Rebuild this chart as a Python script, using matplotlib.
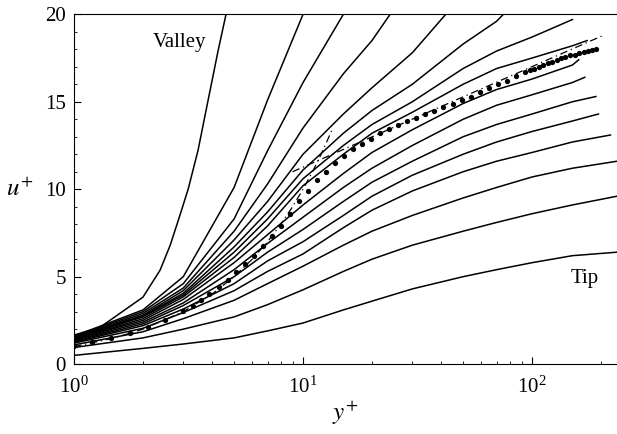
import numpy as np
import matplotlib
matplotlib.use("Agg")
import matplotlib.pyplot as plt

plt.rcParams['font.family'] = ['Liberation Serif', 'DejaVu Serif']
plt.rcParams['mathtext.fontset'] = 'stix'

# -----------------------------
# data
# -----------------------------
# valley profile (own sample points)
valley_y = [1.0, 1.3, 2.0, 2.375, 2.63, 2.9, 3.15, 3.48, 3.85, 4.26, 4.61]
valley_u = [1.66, 2.11, 3.83, 5.37, 6.8, 8.51, 10.0, 12.23, 15.09, 17.94, 20.0]

# other profiles on a common y+ grid, each with its own end point
grid_y = [1, 2, 3, 5, 7, 10, 15, 20, 30, 50, 70, 100, 150]
profiles_u = [
    [1.6, 3.1, 5.0, 10.1, 15.1],
    [1.55, 3.0, 4.6, 8.3, 12.2, 16.1],
    [1.5, 2.9, 4.35, 7.6, 10.3, 13.5, 16.6, 18.5],
    [1.5, 2.8, 4.2, 7.1, 9.3, 12.0, 14.3, 15.8, 17.8],
    [1.45, 2.75, 4.05, 6.7, 8.7, 11.1, 13.2, 14.5, 16.0, 18.3, 19.6],
    [1.45, 2.7, 3.95, 6.4, 8.3, 10.6, 12.5, 13.7, 15.0, 16.9, 17.9, 18.7],
    [1.4, 2.6, 3.85, 6.1, 7.9, 10.2, 12.0, 13.2, 14.4, 16.0, 16.9, 17.5, 18.2],
    [1.4, 2.5, 3.7, 5.8, 7.4, 9.1, 10.9, 12.1, 13.4, 14.9, 15.7, 16.3, 17.1],
    [1.35, 2.4, 3.5, 5.4, 6.9, 8.4, 10.1, 11.2, 12.5, 14.0, 14.8, 15.4, 16.1],
    [1.3, 2.3, 3.35, 5.0, 6.4, 7.7, 9.3, 10.4, 11.6, 13.0, 13.7, 14.3, 15.0],
    [1.25, 2.2, 3.15, 4.6, 5.9, 7.0, 8.5, 9.6, 10.8, 12.0, 12.7, 13.3, 13.9],
    [1.2, 2.05, 2.95, 4.2, 5.3, 6.3, 7.8, 8.8, 9.9, 11.0, 11.6, 12.1, 12.7],
    [1.1, 1.85, 2.6, 3.65, 4.6, 5.6, 6.8, 7.6, 8.5, 9.5, 10.1, 10.7, 11.2],
    [0.95, 1.5, 2.0, 2.7, 3.4, 4.25, 5.3, 6.0, 6.8, 7.6, 8.1, 8.6, 9.1],
    [0.5, 0.9, 1.15, 1.5, 1.9, 2.35, 3.1, 3.6, 4.3, 5.0, 5.4, 5.8, 6.2],
]
end_y = [10, 15, 24, 42, 75, 150, 174, 160, 170, 190, 195, 220, 235, 235, 235]
end_u = [20, 20, 20, 20, 20, 19.7, 18.5, 17.4, 16.4, 15.3, 14.3, 13.1, 11.6, 9.6, 6.4]

# mean profile (filled dots)
mean_y = [1.0, 1.2, 1.45, 1.75, 2.1, 2.5, 3.0, 3.3, 3.6, 3.9, 4.3, 4.7, 5.1, 5.6,
          6.1, 6.7, 7.3, 8.0, 8.8, 9.6, 10.5, 11.5, 12.6, 13.8, 15.1, 16.5, 18.1,
          19.8, 21.7, 23.8, 26.0, 28.5, 31.2, 34.2, 37.4, 41.0, 45.0, 49.3, 54.0,
          59.1, 64.8, 71.0, 77.7, 85.1, 93.2, 98, 102, 107, 112, 117, 122, 128,
          134, 140, 147, 154, 161, 168, 176, 183, 190]
mean_u = [1.05, 1.25, 1.5, 1.8, 2.15, 2.55, 3.05, 3.35, 3.65, 4.0, 4.4, 4.8, 5.25, 5.7,
          6.2, 6.75, 7.3, 7.9, 8.6, 9.3, 9.9, 10.5, 11.0, 11.5, 11.9, 12.3, 12.6,
          12.9, 13.2, 13.45, 13.7, 13.9, 14.1, 14.3, 14.5, 14.7, 14.9, 15.1, 15.3,
          15.55, 15.8, 16.0, 16.2, 16.45, 16.7, 16.8, 16.9, 17.0, 17.1, 17.2, 17.3, 17.4,
          17.5, 17.55, 17.65, 17.7, 17.8, 17.85, 17.9, 17.95, 18.0]

# reference lines: linear sublayer and log law
lin_y = [1.0, 1.5, 2.0, 3.0, 4.0, 5.0, 6.0, 7.0, 8.0, 9.0, 10.0, 11.0, 12.0, 13.5]
lin_u = [1.0, 1.5, 2.0, 3.0, 4.0, 5.0, 6.0, 7.0, 8.0, 9.0, 10.0, 11.0, 12.0, 13.5]
log_y = [9.0, 205.0]
log_u = [11.0, 18.8]

# -----------------------------
# plot
# -----------------------------
fig = plt.figure(figsize=(6.17, 4.34), dpi=100)
ax = fig.add_axes([0.12, 0.161, 0.88, 0.806])

lw = 1.1
ax.plot(valley_y, valley_u, color='black', lw=lw)
for i, u in enumerate(profiles_u):
    ys = grid_y[:len(u)] + [end_y[i]]
    us = u + [end_u[i]]
    ax.plot(ys, us, color='black', lw=lw)

ax.plot(mean_y, mean_u, 'o', color='black', ms=3.8, mew=0)
ax.plot(lin_y, lin_u, color='black', lw=0.9, ls=(0, (6, 3, 1, 3)))
ax.plot(log_y, log_u, color='black', lw=0.9, ls=(0, (6, 3, 1, 3)))

ax.set_xscale('log')
ax.set_xlim(1, 235)
ax.set_ylim(0, 20)
ax.set_yticks([0, 5, 10, 15, 20])
ax.set_yticks(np.arange(0, 21, 1), minor=True)

ax.spines['right'].set_visible(False)
ax.tick_params(which='both', direction='in', top=False, right=False,
               labelsize=15)
ax.tick_params(which='major', length=5)
ax.tick_params(which='minor', length=2.5)
ax.tick_params(axis='x', which='both', pad=9)
ax.tick_params(axis='y', which='both', pad=6)

ax.set_xlabel(r'$y^{+}$', fontsize=18)
ax.xaxis.set_label_coords(0.5, -0.1)
ax.set_ylabel(r'$u^{+}$', fontsize=18, rotation=0, va='center')
ax.yaxis.set_label_coords(-0.1, 0.5)

ax.text(2.9, 18.4, 'Valley', fontsize=15, ha='center', va='center')
ax.text(170, 4.9, 'Tip', fontsize=15, ha='center', va='center')

fig.savefig('out.png', dpi=100)
